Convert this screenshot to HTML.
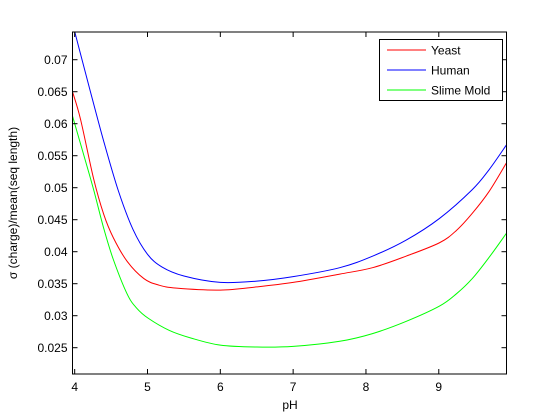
<!DOCTYPE html>
<html><head><meta charset="utf-8"><style>
body{margin:0;background:#fff}
svg{display:block;font-family:"Liberation Sans",sans-serif}
</style></head><body>
<svg id="chart" width="560" height="420">
<rect x="0" y="0" width="560" height="420" fill="#fff"/>
<g id="plot"></g>
</svg>
<script>
const xTicks=[4,5,6,7,8,9];
const yTicks=[0.025,0.03,0.035,0.04,0.045,0.05,0.055,0.06,0.065,0.07];
const yTickLabels=["0.025","0.03","0.035","0.04","0.045","0.05","0.055","0.06","0.065","0.07"];
const seriesNames=["Yeast","Human","Slime Mold"];
const yeastX=[3.97,4.08,4.26,4.4,4.53,4.72,4.95,5.15,5.4,6.0,6.5,7.0,7.64,8.09,8.55,9.01,9.24,9.46,9.69,9.93];
const yeastY=[0.0650,0.0607,0.0514,0.0458,0.0422,0.0385,0.0358,0.0348,0.0343,0.034,0.0345,0.0352,0.0365,0.0375,0.0393,0.0414,0.0433,0.046,0.0494,0.0539];
const humanX=[3.97,4.2,4.4,4.6,4.8,5.0,5.2,5.5,6.0,6.5,7.0,7.64,8.09,8.55,9.01,9.46,9.69,9.93];
const humanY=[0.0757,0.0657,0.0572,0.0495,0.0435,0.0396,0.0376,0.0362,0.0352,0.0354,0.0361,0.0375,0.0393,0.0418,0.0452,0.0497,0.0528,0.0567];
const slimeX=[3.97,4.13,4.26,4.4,4.53,4.72,4.85,5.01,5.3,5.6,6.0,6.5,7.0,7.64,8.09,8.55,9.01,9.24,9.46,9.69,9.93];
const slimeY=[0.0612,0.0549,0.0497,0.0436,0.0388,0.0334,0.0312,0.0296,0.0277,0.0265,0.0254,0.0251,0.0252,0.026,0.0272,0.0291,0.0315,0.0334,0.0358,0.0391,0.0429];

const L=72.5,R=506.5,T=32,B=374;
const xMin=3.97,xMax=9.93,yMin=0.02089,yMax=0.07433;
const sx=v=>L+(v-xMin)/(xMax-xMin)*(R-L);
const sy=v=>B-(v-yMin)/(yMax-yMin)*(B-T);
const NS="http://www.w3.org/2000/svg";
const g=document.getElementById('plot');
function mk(tag,attrs,parent){const e=document.createElementNS(NS,tag);for(const k in attrs)e.setAttribute(k,attrs[k]);(parent||g).appendChild(e);return e;}

const defs=mk('defs',{});
const cp=mk('clipPath',{id:'clip'},defs);
mk('rect',{x:L,y:T,width:R-L,height:B-T},cp);

function pathFor(xs,ys){
  const p=xs.map((x,i)=>[sx(x),sy(ys[i])]);
  let d=`M${p[0][0]},${p[0][1]}`;
  for(let i=0;i<p.length-1;i++){
    const p0=p[i-1]||p[i],p1=p[i],p2=p[i+1],p3=p[i+2]||p2;
    const c1=[p1[0]+(p2[0]-p0[0])/6,p1[1]+(p2[1]-p0[1])/6];
    const c2=[p2[0]-(p3[0]-p1[0])/6,p2[1]-(p3[1]-p1[1])/6];
    d+=` C${c1[0]},${c1[1]} ${c2[0]},${c2[1]} ${p2[0]},${p2[1]}`;
  }
  return d;
}
const lines=mk('g',{'clip-path':'url(#clip)'});
const s1=mk('path',{d:pathFor(humanX,humanY),fill:'none',stroke:'#0000ff','stroke-width':1},lines);


const s2=mk('path',{d:pathFor(yeastX,yeastY),fill:'none',stroke:'#ff0000','stroke-width':1},lines);


const s3=mk('path',{d:pathFor(slimeX,slimeY),fill:'none',stroke:'#00ff00','stroke-width':1},lines);



const box=mk('rect',{x:L,y:T,width:R-L,height:B-T,fill:'none',stroke:'#000','stroke-width':1});



xTicks.forEach(v=>{
  const x=sx(v);
  mk('line',{x1:x,y1:B,x2:x,y2:B-5,stroke:'#000'});
  mk('line',{x1:x,y1:T,x2:x,y2:T+5,stroke:'#000'});
  const t=mk('text',{x:x,y:B+17,'text-anchor':'middle','font-size':12});
  t.textContent=v;
  
  
});
yTicks.forEach((v,i)=>{
  const y=sy(v);
  mk('line',{x1:L,y1:y,x2:L+5,y2:y,stroke:'#000'});
  mk('line',{x1:R,y1:y,x2:R-5,y2:y,stroke:'#000'});
  const t=mk('text',{x:L-5,y:y+4.5,'text-anchor':'end','font-size':12});
  t.textContent=yTickLabels[i];
  
  
});
const xl=mk('text',{x:290,y:409,'text-anchor':'middle','font-size':12});
xl.textContent='pH';


const yl=mk('text',{x:0,y:0,'text-anchor':'middle','font-size':12,transform:'translate(17,203) rotate(-90)'});
yl.textContent='σ (charge)/mean(seq length)';



const lg=mk('g',{});


mk('rect',{x:379.5,y:39.5,width:123,height:61,fill:'#fff',stroke:'#000'},lg);
const cols=['#ff0000','#0000ff','#00ff00'];
seriesNames.forEach((n,i)=>{
  const y=50+i*20;
  mk('line',{x1:387,y1:y,x2:426,y2:y,stroke:cols[i]},lg);
  const t=mk('text',{x:431,y:y+4.5,'font-size':12},lg);
  t.textContent=n;
  
  
});
</script>
</body></html>
